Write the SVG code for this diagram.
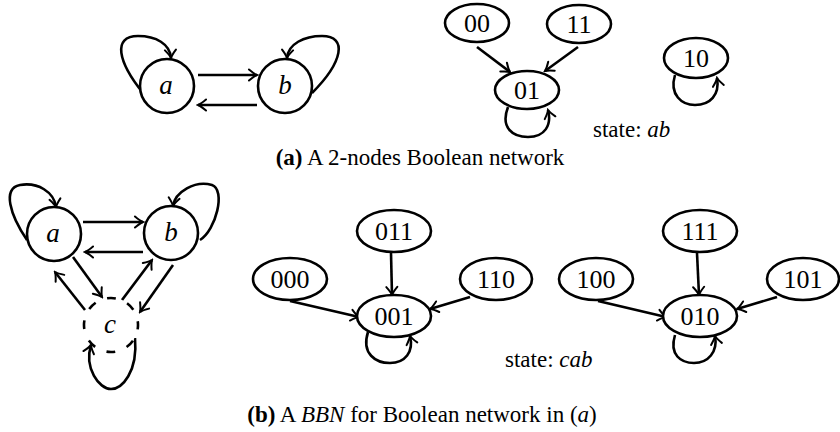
<svg xmlns="http://www.w3.org/2000/svg" width="840" height="432" viewBox="0 0 840 432">
  <defs>
    <marker id="arr" viewBox="-10 -7 12 14" refX="0" refY="0" markerWidth="12" markerHeight="14" orient="auto" markerUnits="userSpaceOnUse">
      <path d="M-8,-5.5 Q-3,-1.2 0,0 Q-3,1.2 -8,5.5" fill="none" stroke="#000" stroke-width="2" stroke-linecap="round"/>
    </marker>
    <style>
      .node { fill: #fff; stroke: #000; stroke-width: 2.6; }
      .dashed { fill: #fff; stroke: #000; stroke-width: 2.6; stroke-dasharray: 9 12.2; stroke-dashoffset: 4.5; }
      .edge { fill: none; stroke: #000; stroke-width: 2.6; marker-end: url(#arr); }
      .var { font-family: "Liberation Serif", "Times New Roman", serif; font-style: italic; font-size: 27px; text-anchor: middle; }
      .bits { font-family: "Liberation Serif", "Times New Roman", serif; font-size: 26px; text-anchor: middle; }
      .note { font-family: "Liberation Serif", "Times New Roman", serif; font-size: 23px; }
      .cap { font-family: "Liberation Serif", "Times New Roman", serif; font-size: 23px; text-anchor: middle; }
      .b { font-weight: bold; }
      .i { font-style: italic; }
    </style>
  </defs>
  <rect width="840" height="432" fill="#fff"/>

  <!-- (a) network -->
  <g id="edges-a">
    <path class="edge" d="M143,93 C118,62 112,36 138,36 C156,36 170,44 171,58"/>
    <path class="edge" d="M312,93 C343,62 348,36 322,36 C304,36 288,44 287,58"/>
    <line class="edge" x1="198" y1="75" x2="257" y2="75"/>
    <line class="edge" x1="257" y1="105" x2="198" y2="105"/>
  </g>
  <g id="na-a"><circle class="node" cx="167" cy="86" r="27"/><text class="var" x="166" y="94">a</text></g>
  <g id="na-b"><circle class="node" cx="285" cy="86" r="27"/><text class="var" x="285" y="94">b</text></g>

  <!-- (a) state graph -->
  <g id="edges-sa">
    <line class="edge" x1="477" y1="47" x2="510" y2="72"/>
    <line class="edge" x1="578" y1="47" x2="545" y2="71"/>
    <path class="edge" d="M508,107 C500,128 513,137 528,137 C545,137 552,125 548,110"/>
    <path class="edge" d="M675,75 C669,95 682,105 695,105 C710,105 720,95 717,78"/>
  </g>
  <g id="s00"><ellipse class="node" cx="477" cy="23" rx="32" ry="19"/><text class="bits" x="477" y="32">00</text></g>
  <g id="s11"><ellipse class="node" cx="579" cy="24" rx="32" ry="19"/><text class="bits" x="579" y="33">11</text></g>
  <g id="s01"><ellipse class="node" cx="527" cy="90" rx="32" ry="19"/><text class="bits" x="527" y="99">01</text></g>
  <g id="s10"><ellipse class="node" cx="696" cy="58" rx="32" ry="20"/><text class="bits" x="696" y="67">10</text></g>
  <text class="note" x="593" y="137">state: <tspan class="i">ab</tspan></text>

  <text class="cap" x="420" y="165"><tspan class="b">(a)</tspan> A 2-nodes Boolean network</text>

  <!-- (b) network -->
  <g id="edges-b">
    <path class="edge" d="M27,240 C10,215 2,188 20,185 C38,182 54,192 56,207"/>
    <path class="edge" d="M200,240 C216,230 226,190 212,185 C195,180 175,192 173,206"/>
    <line class="edge" x1="83" y1="222" x2="143" y2="222"/>
    <line class="edge" x1="143" y1="252" x2="85" y2="252"/>
    <line class="edge" x1="73" y1="257" x2="102" y2="297"/>
    <line class="edge" x1="85" y1="310" x2="55" y2="272"/>
    <line class="edge" x1="122" y1="300" x2="152" y2="260"/>
    <line class="edge" x1="173" y1="265" x2="140" y2="312"/>
    <path class="edge" d="M135,338 C138,372 122,389 111,389 C99,389 84,368 91,345"/>
  </g>
  <g id="nb-a"><circle class="node" cx="54" cy="234" r="27"/><text class="var" x="53" y="242">a</text></g>
  <g id="nb-b"><circle class="node" cx="171" cy="233" r="27"/><text class="var" x="171" y="241">b</text></g>
  <g id="nb-c"><circle class="dashed" cx="111" cy="325" r="27"/><text class="var" x="110" y="333">c</text></g>

  <!-- (b) state graph -->
  <g id="edges-sb">
    <line class="edge" x1="391" y1="253" x2="392" y2="295"/>
    <line class="edge" x1="290" y1="301" x2="359" y2="317"/>
    <line class="edge" x1="470" y1="297" x2="430" y2="309"/>
    <path class="edge" d="M368,332 C361,354 376,363 390,363 C405,363 414,352 410,336"/>
    <line class="edge" x1="697" y1="253" x2="699" y2="295"/>
    <line class="edge" x1="598" y1="301" x2="666" y2="317"/>
    <line class="edge" x1="777" y1="297" x2="737" y2="309"/>
    <path class="edge" d="M675,335 C669,355 681,363 694,363 C708,363 718,352 715,336"/>
  </g>
  <g id="s011"><ellipse class="node" cx="394" cy="231" rx="37" ry="21"/><text class="bits" x="394" y="240">011</text></g>
  <g id="s000"><ellipse class="node" cx="290" cy="279" rx="37" ry="21"/><text class="bits" x="290" y="288">000</text></g>
  <g id="s110"><ellipse class="node" cx="496" cy="279" rx="36" ry="21"/><text class="bits" x="496" y="288">110</text></g>
  <g id="s001"><ellipse class="node" cx="394" cy="316" rx="37" ry="21"/><text class="bits" x="394" y="325">001</text></g>
  <g id="s111"><ellipse class="node" cx="700" cy="231" rx="37" ry="21"/><text class="bits" x="700" y="240">111</text></g>
  <g id="s100"><ellipse class="node" cx="596" cy="279" rx="37" ry="21"/><text class="bits" x="596" y="288">100</text></g>
  <g id="s101"><ellipse class="node" cx="803" cy="279" rx="36" ry="21"/><text class="bits" x="803" y="288">101</text></g>
  <g id="s010"><ellipse class="node" cx="700" cy="316" rx="37" ry="21"/><text class="bits" x="700" y="325">010</text></g>
  <text class="note" x="505" y="367">state: <tspan class="i">cab</tspan></text>

  <text class="cap" x="422" y="422"><tspan class="b">(b)</tspan> A <tspan class="i">BBN</tspan> for Boolean network in (<tspan class="i">a</tspan>)</text>
</svg>
